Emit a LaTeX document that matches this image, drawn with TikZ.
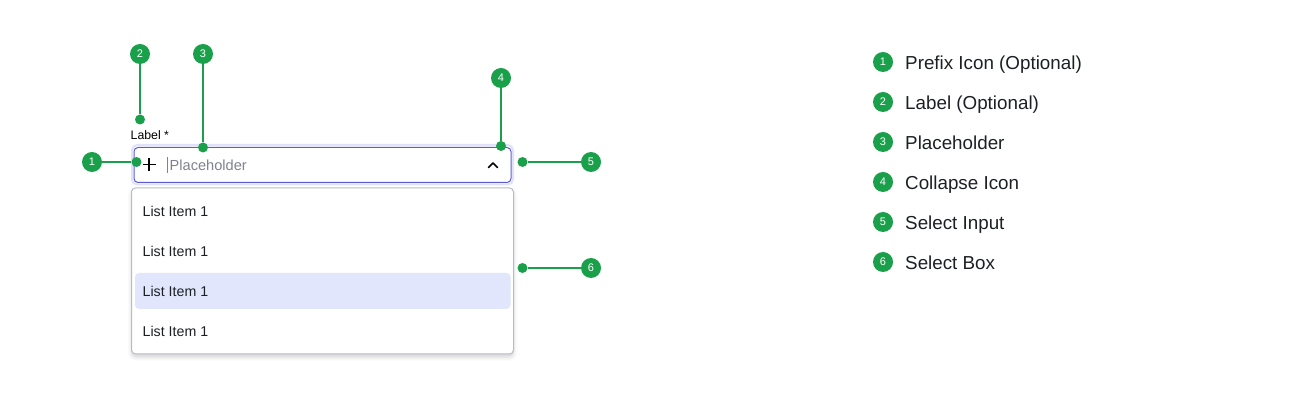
\documentclass[tikz,border=0pt]{standalone}
\usepackage{fontspec}
\setmainfont{Liberation Sans}
\usetikzlibrary{shadows.blur}
\definecolor{grn}{RGB}{26,160,74}
\definecolor{iris}{RGB}{91,91,214}
\definecolor{ring}{RGB}{224,226,252}
\definecolor{hl}{RGB}{225,230,253}
\definecolor{gborder}{RGB}{185,187,198}
\definecolor{txt}{RGB}{28,32,36}
\definecolor{ph}{RGB}{128,131,141}
\begin{document}
\begin{tikzpicture}[x=1pt,y=-1pt,
  badge/.style={circle,fill=grn,text=white,inner sep=0pt,minimum size=20pt,font=\fontsize{11}{11}\selectfont},
  pin/.style={circle,fill=grn,inner sep=0pt,minimum size=10pt},
  lead/.style={draw=grn,line width=2pt},
  item/.style={anchor=base west,inner sep=0pt,text=txt,font=\fontsize{14.2}{14}\selectfont},
  legend/.style={anchor=base west,inner sep=0pt,text=txt,font=\fontsize{18.8}{19}\selectfont}]
\useasboundingbox (0,0) rectangle (1312,419);
% input box
\draw[ring,line width=2pt,rounded corners=5pt] (132,145) rectangle (513,184.5);
\draw[iris,line width=1pt,fill=white,rounded corners=4pt] (134,147.5) rectangle (511,182.5);
\coordinate (plus) at (149,164.5);
\draw[black,line width=1.8pt] ([xshift=-6.5pt]plus) -- ([xshift=6.5pt]plus);
\draw[black,line width=1.8pt] ([yshift=-6.5pt]plus) -- ([yshift=6.5pt]plus);
\draw[ph,line width=1pt] (167,157) -- (167,173);
\node[anchor=base west,inner sep=0pt,text=ph,font=\fontsize{14.6}{15}\selectfont] (placeholder) at (169.5,170.5) {Placeholder};
\draw[black,line width=1.6pt,line cap=round,line join=round] (488.5,167.5) -- (493,163) -- (497.5,167.5);
\node[anchor=base west,inner sep=0pt,text=black,font=\fontsize{12.3}{12}\selectfont] (label) at (130.5,139.5) {Label *};
% dropdown
\draw[gborder,line width=1pt,fill=white,rounded corners=4pt,blur shadow={shadow xshift=0pt,shadow yshift=-3pt,shadow blur radius=4pt,shadow opacity=18}] (131.5,188) rectangle (513.5,354);
\fill[hl,rounded corners=4pt] (135,273) rectangle (510.5,309);
\node[item] (i1) at (142.5,217) {List Item 1};
\node[item] (i2) at (142.5,257) {List Item 1};
\node[item] (i3) at (142.5,297) {List Item 1};
\node[item] (i4) at (142.5,337) {List Item 1};
% callouts
\node[badge] (c1) at (92,162) {1};
\node[badge] (c2) at (140,54) {2};
\node[badge] (c3) at (203,54) {3};
\node[badge] (c4) at (501,78) {4};
\node[badge] (c5) at (591,162) {5};
\node[badge] (c6) at (591,268) {6};
\node[pin] (d1) at (136.5,162) {};
\node[pin] (d2) at (140,119.5) {};
\node[pin] (d3) at (203,147.5) {};
\node[pin] (d4) at (501,146) {};
\node[pin] (d5) at (522.5,162) {};
\node[pin] (d6) at (522.5,268) {};
\draw[lead] (c1) -- (d1);
\draw[lead] (c2) -- (d2);
\draw[lead] (c3) -- (d3);
\draw[lead] (c4) -- (d4);
\draw[lead] (c5) -- (d5);
\draw[lead] (c6) -- (d6);
% legend
\foreach \n/\t [count=\i] in {1/Prefix Icon (Optional),2/Label (Optional),3/Placeholder,4/Collapse Icon,5/Select Input,6/Select Box}{
  \node[badge] (l\n) at (883,22+40*\i) {\n};
  \node[legend] (t\n) at (905,29.6+40*\i) {\t};
}
\end{tikzpicture}
\end{document}
